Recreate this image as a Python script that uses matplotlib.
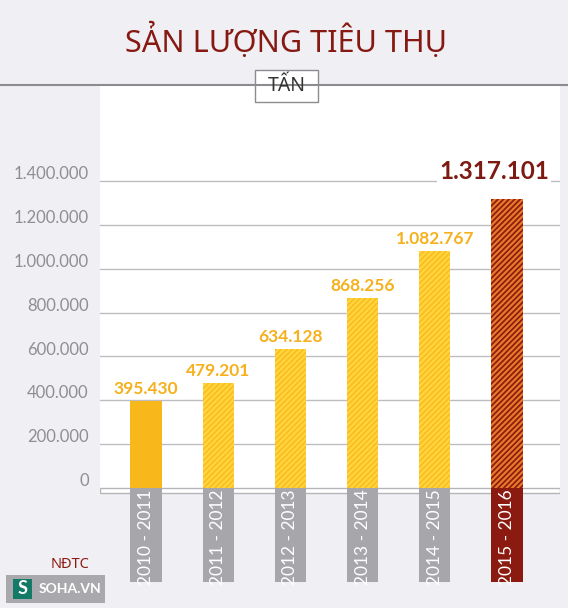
import matplotlib.pyplot as plt
from matplotlib.patches import Rectangle
from matplotlib.transforms import ScaledTranslation

# data
seasons = ['2010 - 2011', '2011 - 2012', '2012 - 2013', '2013 - 2014', '2014 - 2015', '2015 - 2016']
tons = [395430, 479201, 634128, 868256, 1082767, 1317101]
labels = ['395.430', '479.201', '634.128', '868.256', '1.082.767', '1.317.101']
yticks = [0, 200000, 400000, 600000, 800000, 1000000, 1200000, 1400000]
yticklabels = ['0', '200.000', '400.000', '600.000', '800.000', '1.000.000', '1.200.000', '1.400.000']

bg = '#f0eff4'
red = '#8b1a10'
yellow = '#f8b81c'
grey_box = '#a7a6ab'

plt.rcParams['font.family'] = ['Lato', 'Noto Sans', 'DejaVu Sans']
plt.rcParams['hatch.linewidth'] = 1.6

W, H = 568, 608
fig = plt.figure(figsize=(W / 100, H / 100), dpi=100, facecolor=bg)

# header
fig.text(286 / W, 1 - 41 / H, 'SẢN LƯỢNG TIÊU THỤ', ha='center', va='center',
         fontsize=22, color='#861a12', family=['Noto Sans', 'DejaVu Sans'])
fig.add_artist(plt.Line2D([0, 1], [1 - 85 / H, 1 - 85 / H], color='#8c8c90', lw=1.5))
fig.add_artist(Rectangle((255 / W, 1 - 102 / H), 63 / W, 32 / H, transform=fig.transFigure,
                         fc='white', ec='#8c8c90', lw=1))
fig.text(287 / W, 1 - 86 / H, 'TẤN', ha='center', va='center', fontsize=14, color='#333333',
         family=['Noto Sans', 'DejaVu Sans'])

# main axes, pixel-calibrated
ax = fig.add_axes([100 / W, (H - 582) / H, 460 / W, (582 - 86) / H])
ax.set_facecolor('none')
per_px = 1400000 / 307
ymin = -(582 - 488) * per_px
ymax = (488 - 86) * per_px
xmin = -46 / 72.2
xmax = (560 - 146) / 72.2
ax.set_xlim(xmin, xmax)
ax.set_ylim(ymin, ymax)

base = -(493 - 488) * per_px
ax.axhspan(base, ymax, color='white', zorder=0, lw=0)
for t in yticks[1:]:
    ax.axhline(t, color='#bdbdc1', lw=1, zorder=1)
ax.add_patch(Rectangle((xmin, base), xmax - xmin, -base, fc='white', ec='#b5b5b9', lw=1, zorder=2))

x = list(range(len(tons)))
w = 0.43
for i, v in enumerate(tons):
    if i == 0:
        ax.bar(i, v, width=w, color=yellow, lw=0, zorder=3)
    elif i == len(tons) - 1:
        ax.bar(i, v, width=w, color=red, edgecolor='#e8782a', hatch='//////', lw=0, zorder=3)
    else:
        ax.bar(i, v, width=w, color='#fbbd1e', edgecolor='#ffd640', hatch='//////', lw=0, zorder=3)

# category boxes
box_colors = [grey_box] * 5 + [red]
ax.bar(x, [-ymin] * len(x), bottom=ymin, width=w, color=box_colors, lw=0, zorder=4)
for i, s in enumerate(seasons):
    ax.text(i, ymin / 2 - 2 * per_px, s, rotation=90, ha='center', va='center',
            color='white', fontsize=12.5, zorder=5)

# value labels
for i, (v, lab) in enumerate(zip(tons, labels)):
    if i == len(tons) - 1:
        ax.text(i - 0.18, v + 16 * per_px, lab, ha='center', va='bottom', fontsize=17.5,
                fontweight='bold', color='#7d1a12', zorder=6,
                bbox=dict(boxstyle='square,pad=0.1', fc='white', ec='none'))
    else:
        ax.text(i, v + 4 * per_px, lab, ha='center', va='bottom', fontsize=12.5,
                fontweight='bold', color='#f5b01c', zorder=6)

ax.set_xticks([])
ax.set_yticks(yticks)
ax.set_yticklabels(yticklabels, fontsize=12, color='#8e8e93')
ax.tick_params(axis='y', length=0, pad=8)
off = ScaledTranslation(0, 6 / 72, fig.dpi_scale_trans)
for lab in ax.get_yticklabels():
    lab.set_transform(lab.get_transform() + off)
for sp in ax.spines.values():
    sp.set_visible(False)

# footer
fig.text(70 / W, 1 - 565 / H, 'NĐTC', ha='center', va='center', fontsize=10.5,
         color=red, family=['Noto Sans', 'DejaVu Sans'])
fig.add_artist(Rectangle((6 / W, 1 - 603 / H), 99 / W, 28 / H, transform=fig.transFigure,
                         fc='#a9a9ad', ec='none'))
fig.add_artist(Rectangle((13 / W, 1 - 599 / H), 19 / W, 20 / H, transform=fig.transFigure,
                         fc='#127a66', ec='none'))
fig.text(22.5 / W, 1 - 589 / H, 'S', ha='center', va='center', fontsize=13, fontweight='bold',
         color='white')
fig.text(39 / W, 1 - 589 / H, 'SOHA.VN', ha='left', va='center', fontsize=10,
         fontweight='bold', color='white')

fig.savefig('out.png', dpi=100, facecolor=bg)
